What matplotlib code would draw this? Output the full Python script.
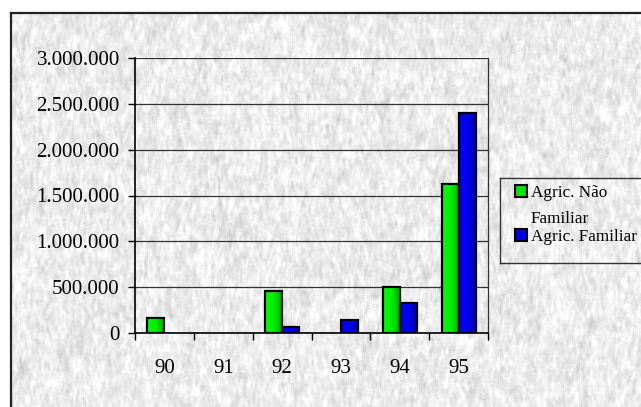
import numpy as np
import matplotlib.pyplot as plt
from matplotlib.colors import LinearSegmentedColormap
from matplotlib.patches import Rectangle
from matplotlib.ticker import FuncFormatter, FixedLocator

plt.rcParams['font.family'] = ['Liberation Serif', 'DejaVu Serif']

anos = ['90', '91', '92', '93', '94', '95']
nao_familiar = [160000, 0, 458000, 0, 505000, 1625000]
familiar = [0, 0, 69000, 142000, 330000, 2403000]
rotulos = ['Agric. Não\nFamiliar', 'Agric. Familiar']

W, H = 641, 407
fig = plt.figure(figsize=(W / 100, H / 100), dpi=100, facecolor='white')


def px(x0, y0, x1, y1):
    # pixel box (top-left origin) -> figure fraction rect
    return [x0 / W, 1 - y1 / H, (x1 - x0) / W, (y1 - y0) / H]


def suaviza(a, n, eixo):
    k = np.ones(n) / n
    return np.apply_along_axis(lambda c: np.convolve(c, k, mode='same'), eixo, a)


# granite-like background of the chart area
rng = np.random.default_rng(7)
noise = suaviza(suaviza(rng.normal(size=(H, W)), 7, 0), 3, 1)
noise = noise / noise.std()
blobs = suaviza(suaviza(rng.normal(size=(H, W)), 15, 0), 9, 1)
blobs = blobs / blobs.std()
fine = rng.normal(size=(H, W)) * 0.3
tex = np.clip(0.925 + 0.03 * noise + 0.02 * blobs + 0.012 * fine, 0.76, 1.0)

bg = fig.add_axes(px(11, 13, W + 2, H + 2), zorder=-10)
bg.imshow(tex, cmap='gray', vmin=0, vmax=1, aspect='auto', interpolation='bilinear')
bg.set_xticks([])
bg.set_yticks([])
for side in ['right', 'bottom']:
    bg.spines[side].set_visible(False)
for side in ['left', 'top']:
    bg.spines[side].set_linewidth(1.6)
    bg.spines[side].set_color('#222222')

ax = fig.add_axes(px(135, 58, 488, 333))
ax.patch.set_alpha(0)

x = np.arange(len(anos))
w = 0.29
verde = LinearSegmentedColormap.from_list('v', ['#00ff00', '#00ec00', '#00a000'])
azul = LinearSegmentedColormap.from_list('a', ['#0000ff', '#0000ec', '#000088'])
grad = np.linspace(0, 1, 64).reshape(1, -1)

for serie, off, cmap in [(nao_familiar, -w / 2, verde), (familiar, w / 2, azul)]:
    bars = ax.bar(x + off, serie, width=w, color='none', edgecolor='black',
                  linewidth=1.6, zorder=4)
    for b, v in zip(bars, serie):
        if v <= 0:
            b.set_visible(False)
            continue
        im = ax.imshow(grad, cmap=cmap, aspect='auto', zorder=3,
                       extent=[b.get_x(), b.get_x() + b.get_width(), 0, v])
        im.set_clip_path(b)

ax.set_xlim(-0.5, len(anos) - 0.5)
ax.set_ylim(0, 3000000)

ax.yaxis.set_major_locator(FixedLocator(np.arange(0, 3000001, 500000)))
ax.yaxis.set_major_formatter(FuncFormatter(lambda v, p: f'{int(v):,}'.replace(',', '.')))
ax.grid(axis='y', color='#333333', linewidth=0.9, zorder=1)
ax.set_axisbelow(True)

ax.set_xticks(x)
ax.set_xticklabels(anos)
ax.set_xticks(np.arange(-0.5, len(anos)), minor=True)
ax.tick_params(axis='x', which='major', length=0, pad=19, labelsize=15)
ax.tick_params(axis='x', which='minor', length=5, width=1, direction='out')
ax.tick_params(axis='y', length=5, width=1, direction='out', pad=6, labelsize=15)

for side in ['left', 'bottom']:
    ax.spines[side].set_color('black')
    ax.spines[side].set_linewidth(1.2)
ax.spines['top'].set_visible(False)
ax.spines['right'].set_color('#333333')
ax.spines['right'].set_linewidth(0.9)

# legend box
leg = fig.add_axes(px(500, 178, W + 5, 263), zorder=5)
leg.set_xlim(500, W + 5)
leg.set_ylim(263, 178)
leg.patch.set_alpha(0)
leg.set_xticks([])
leg.set_yticks([])
for side in ['top', 'left', 'bottom']:
    leg.spines[side].set_color('#333333')
    leg.spines[side].set_linewidth(1.0)
leg.spines['right'].set_visible(False)

cores = ['#00e400', '#0000e0']
quadrado_y = [184.5, 228.5]
linhas_base = [[197, 223], [241]]
for cor, rot, qy, bases in zip(cores, rotulos, quadrado_y, linhas_base):
    leg.add_patch(Rectangle((515, qy), 12, 12, facecolor=cor,
                            edgecolor='black', linewidth=1.5))
    for linha, yb in zip(rot.split('\n'), bases):
        leg.text(531, yb, linha, fontsize=12.3, va='baseline', ha='left')

fig.savefig('out.png', dpi=100, facecolor='white')
